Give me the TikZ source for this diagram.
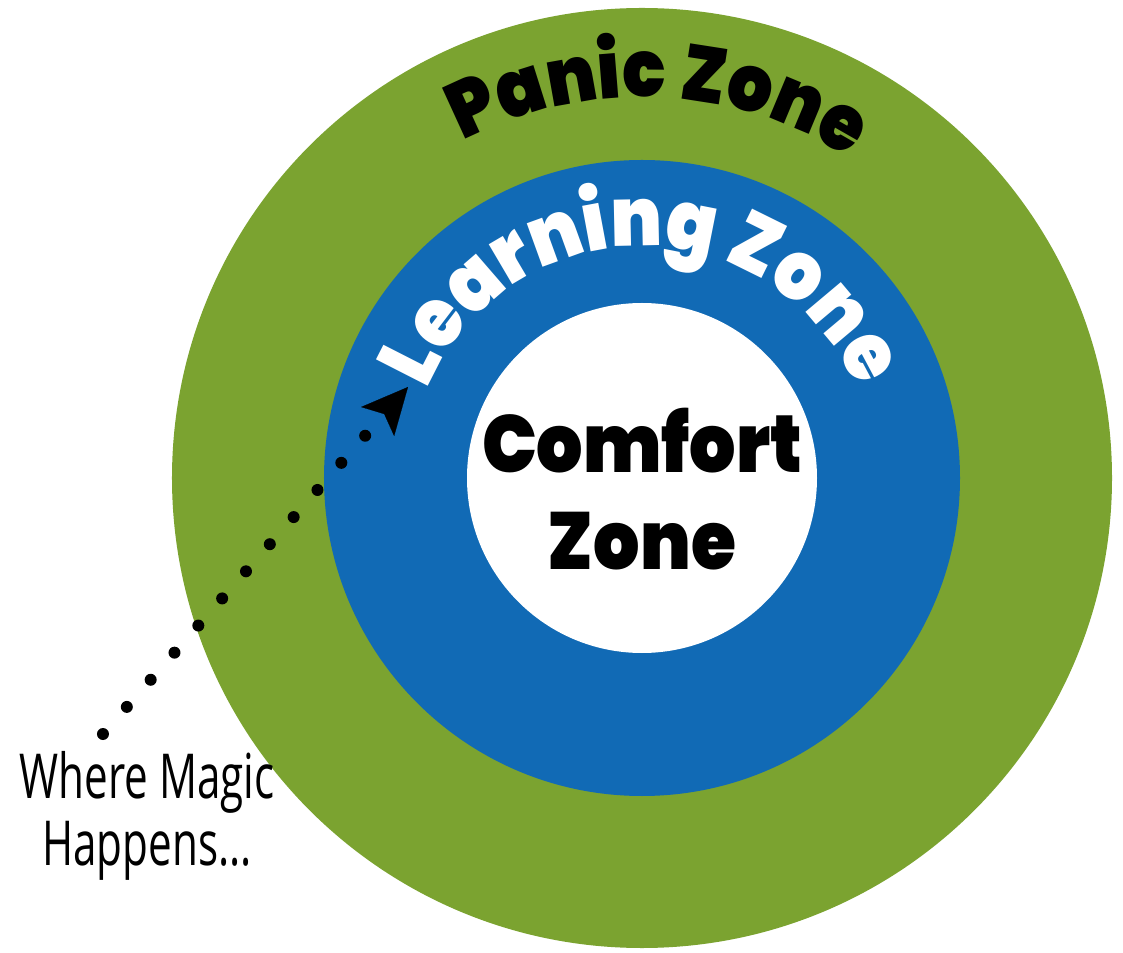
\documentclass[tikz,border=0pt]{standalone}
\usepackage{fontspec}
\usetikzlibrary{arrows.meta,decorations.text}

\newfontfamily\heavyfont{Poppins Black}[FakeStretch=0.9]
\newfontfamily\magicfont{Open Sans}[FakeStretch=0.68]

\definecolor{panicgreen}{RGB}{123,163,48}
\definecolor{learnblue}{RGB}{17,106,181}

\tikzset{
  zonelabel/.style={font=\heavyfont\fontsize{40.5}{46}\selectfont, anchor=base, inner sep=0pt},
  magiclabel/.style={font=\magicfont\fontsize{31}{36}\selectfont, anchor=base, inner sep=0pt},
  dotline/.style={line width=6pt, line cap=round, dash pattern=on 0pt off 18.05pt,
    -{Stealth[length=23pt,width=22pt,inset=5pt,line width=0.1pt]}}
}

\begin{document}
\begin{tikzpicture}[x=0.5pt,y=0.5pt]
      \def\panicr{470}
      \def\learnr{318}
      \def\comfortr{175}

      \useasboundingbox (-642,-474) rectangle (481,478);
      \coordinate (centre) at (0,0);

      \fill[panicgreen] (centre) circle[radius=\panicr];
      \fill[learnblue] (centre) circle[radius=\learnr];
      \fill[white] (centre) circle[radius=\comfortr];

      % arc labels
      \path[decorate, decoration={text along path, text align=center,
        text={|\heavyfont\fontsize{39.5}{39.5}\selectfont|Panic Zone}}]
        (167.5:381) arc[start angle=167.5, end angle=7.5, radius=381];
      \path[decorate, decoration={text along path, text align=center,
        text={|\heavyfont\fontsize{41}{41}\selectfont\color{white}|Learning Zone}}]
        (170:232) arc[start angle=170, end angle=10, radius=232];

      \node[zonelabel] (comfort) at (0,5) {Comfort};
      \node[zonelabel] (comfortzone) at (0,-92) {Zone};

      \node[magiclabel] (magic) at (-495,-320) {Where Magic};
      \node[magiclabel] (happens) at (-495,-387) {Happens...};

      \coordinate (dotstart) at (-539,-256);
      \coordinate (tip) at (-234,91);
      \draw[dotline] (dotstart) -- (tip);
\end{tikzpicture}
\end{document}
